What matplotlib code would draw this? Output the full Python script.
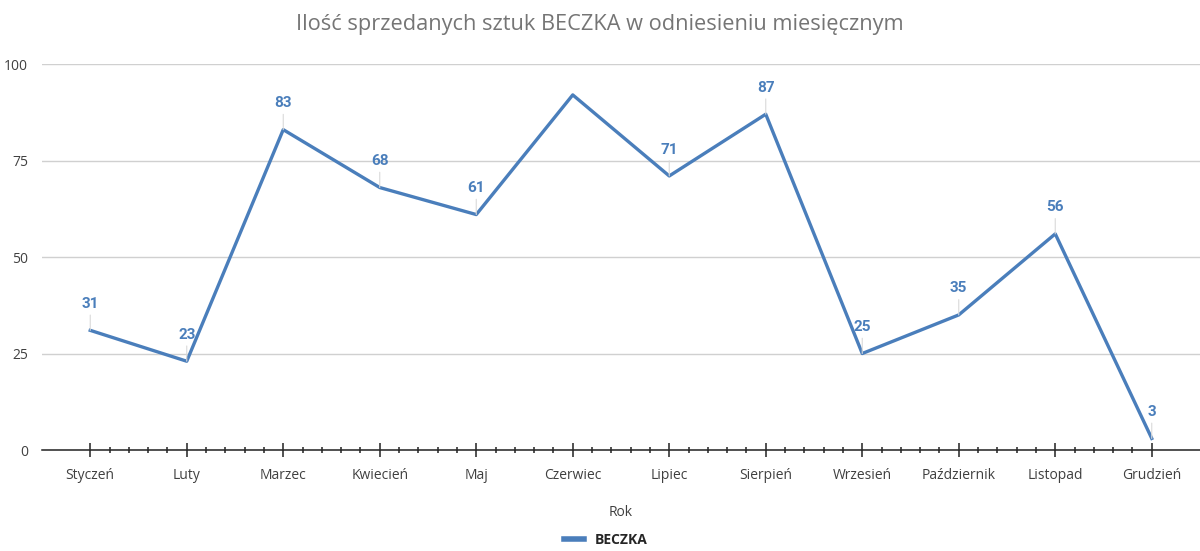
import matplotlib
matplotlib.use("Agg")
import matplotlib.pyplot as plt
from matplotlib.ticker import FixedLocator
from matplotlib.lines import Line2D

months = ["Styczeń", "Luty", "Marzec", "Kwiecień", "Maj", "Czerwiec",
          "Lipiec", "Sierpień", "Wrzesień", "Październik", "Listopad", "Grudzień"]
values = [31, 23, 83, 68, 61, 92, 71, 87, 25, 35, 56, 3]
# Czerwiec has no data label in the original
show_label = [True, True, True, True, True, False, True, True, True, True, True, True]
series_name = "BECZKA"
yticks = [0, 25, 50, 75, 100]

blue = "#4a7ebb"
plt.rcParams['font.family'] = ['Open Sans', 'DejaVu Sans']

fig = plt.figure(figsize=(12, 5.51), dpi=100)
ax = fig.add_axes([0.035, 0.1833, 0.965, 0.7005])

x = list(range(len(months)))
ax.plot(x, values, color=blue, linewidth=2.4, zorder=3, clip_on=False)

for xi, v, show in zip(x, values, show_label):
    if not show:
        continue
    ax.annotate(str(v), xy=(xi, v), xytext=(0, 14), textcoords="offset points",
                ha="center", va="bottom", fontsize=11, fontweight="bold",
                color=blue, family=["Roboto", "DejaVu Sans"],
                arrowprops=dict(arrowstyle="-", color="#d9d9d9", lw=0.8,
                                shrinkA=1, shrinkB=0))

ax.set_xlim(-0.5, 11.5)
ax.set_ylim(0, 100)
ax.set_yticks(yticks)
ax.set_xticks(x)
ax.set_xticklabels(months, fontsize=10, color="#404040")
minor = [i / 5 for i in range(1, 55) if i % 5 != 0]
ax.xaxis.set_minor_locator(FixedLocator(minor))
ax.tick_params(axis="x", which="major", direction="inout", length=10, width=1.1,
               color="#222222", pad=8)
ax.tick_params(axis="x", which="minor", direction="inout", length=5, width=1.1,
               color="#222222")
ax.tick_params(axis="y", length=0, labelsize=10, labelcolor="#404040", pad=10)

ax.grid(axis="y", color="#d0d0d0", linewidth=1)
ax.set_axisbelow(True)
for side in ["left", "right", "top"]:
    ax.spines[side].set_visible(False)
ax.spines["bottom"].set_color("#222222")
ax.spines["bottom"].set_linewidth(1.1)
ax.spines["bottom"].set_zorder(4)

ax.set_xlabel("Rok", fontsize=10, color="#404040", labelpad=16)
fig.suptitle("Ilość sprzedanych sztuk BECZKA w odniesieniu miesięcznym",
             fontsize=15.7, color="#757575", y=0.975)

handle = Line2D([0], [0], color=blue, linewidth=4)
leg = fig.legend([handle], [series_name], loc="lower center",
                 bbox_to_anchor=(0.505, -0.012), borderpad=0.3,
                 frameon=False, handlelength=1.4, fontsize=10)
for t in leg.get_texts():
    t.set_fontweight("bold")
    t.set_color("#262626")

fig.savefig("out.png", dpi=100)
